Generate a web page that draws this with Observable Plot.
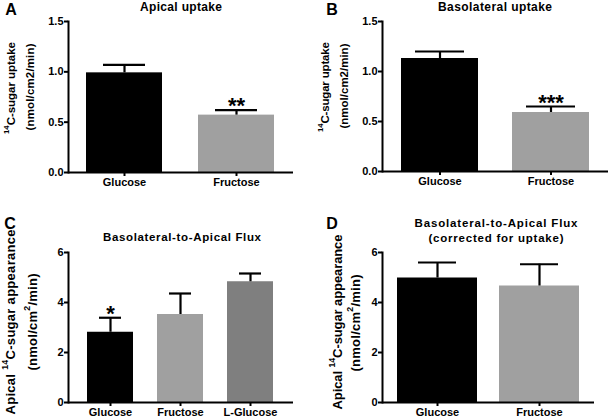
<!DOCTYPE html>
<html>
<head>
<meta charset="utf-8">
<script src="https://cdn.jsdelivr.net/npm/d3@7"></script>
<script src="https://cdn.jsdelivr.net/npm/@observablehq/plot@0.6"></script>
<style>
  html, body { margin: 0; padding: 0; background: #fff; }
  #wrap { position: relative; width: 609px; height: 420px; overflow: hidden; background: #fff;
          font-family: "Liberation Sans", Arial, sans-serif; font-weight: bold; color: #000; }
  .panel { position: absolute; }
  #overlay { position: absolute; left: 0; top: 0; pointer-events: none; }
</style>
</head>
<body>
<div id="wrap"></div>
<script>
// ---- data ----
const catsAB = ["Glucose", "Fructose"];
const apicalMean = [0.99, 0.57];
const apicalSem = [0.08, 0.05];
const apicalStars = ["", "**"];

const basoMean = [1.13, 0.59];
const basoSem = [0.07, 0.06];
const basoStars = ["", "***"];

const catsC = ["Glucose", "Fructose", "L-Glucose"];
const fluxMean = [2.81, 3.52, 4.83];
const fluxSem = [0.58, 0.84, 0.33];
const fluxStars = ["*", "", ""];

const catsD = ["Glucose", "Fructose"];
const corrMean = [4.98, 4.66];
const corrSem = [0.62, 0.87];
const corrStars = ["", ""];

const uptakeTicks = [0, 0.5, 1.0, 1.5];
const fluxTicks = [0, 2, 4, 6];

const barColors = {"Glucose": "#000000", "Fructose": "#a0a0a0", "L-Glucose": "#7f7f7f"};

const wrap = document.getElementById("wrap");

function makePanel(o) {
  const data = o.cats.map((c, i) => ({cat: c, mean: o.means[i], top: o.means[i] + o.sems[i], star: o.stars[i], color: barColors[c]}));
  const chart = Plot.plot({
    width: o.width, height: o.height,
    marginLeft: o.ml, marginRight: o.mr, marginTop: o.mt, marginBottom: o.mb,
    style: {fontFamily: "Liberation Sans, Arial, sans-serif", fontWeight: "bold", fontSize: "11px", background: "transparent", overflow: "visible", color: "#000"},
    x: {type: "band", domain: o.cats, paddingInner: o.pi, paddingOuter: o.po},
    y: {domain: o.domain},
    color: {type: "identity"},
    marks: [
      Plot.barY(data, {x: "cat", y: "mean", fill: "color"}),
      Plot.ruleX(data, {x: "cat", y1: "mean", y2: "top", stroke: "#000", strokeWidth: 2.2}),
      Plot.tickY(data, {x: "cat", y: "top", stroke: "#000", strokeWidth: 2.2, insetLeft: o.cap, insetRight: o.cap}),
      Plot.text(data, {x: "cat", y: "top", text: "star", dy: -4, fontSize: 22, fontWeight: "bold", fill: "#000"}),
      Plot.frame({anchor: "left", stroke: "#000", strokeWidth: 2}),
      Plot.ruleY([0], {stroke: "#000", strokeWidth: 2}),
      Plot.axisY({ticks: o.ticks, tickFormat: o.fmt, tickSize: 4, tickPadding: 1, strokeWidth: 2, label: null, fontSize: 11}),
      Plot.axisX({tickSize: 4, tickPadding: 2, strokeWidth: 2, label: null, fontSize: 11})
    ]
  });
  chart.classList.add("panel");
  chart.style.left = o.left + "px";
  chart.style.top = o.top + "px";
  wrap.appendChild(chart);
}

const f1 = d3.format(".1f");
const f0 = d3.format("d");

makePanel({cats: catsAB, means: apicalMean, sems: apicalSem, stars: apicalStars, domain: [0, 1.5], ticks: uptakeTicks, fmt: f1,
  left: 0, top: 0, width: 300, height: 210, ml: 68, mr: 7, mt: 21, mb: 38, pi: 0.32, po: 0.16, cap: 17});
makePanel({cats: catsAB, means: basoMean, sems: basoSem, stars: basoStars, domain: [0, 1.5], ticks: uptakeTicks, fmt: f1,
  left: 300, top: 0, width: 309, height: 210, ml: 82, mr: 1, mt: 21, mb: 39, pi: 0.31, po: 0.167, cap: 14});
makePanel({cats: catsC, means: fluxMean, sems: fluxSem, stars: fluxStars, domain: [0, 6], ticks: fluxTicks, fmt: f0,
  left: 0, top: 210, width: 300, height: 210, ml: 68, mr: 7, mt: 42, mb: 18, pi: 0.34, po: 0.256, cap: 12});
makePanel({cats: catsD, means: corrMean, sems: corrSem, stars: corrStars, domain: [0, 6], ticks: fluxTicks, fmt: f0,
  left: 300, top: 210, width: 309, height: 210, ml: 82, mr: 15, mt: 42, mb: 18, pi: 0.22, po: 0.143, cap: 21});

// ---- annotation text overlay ----
const svg = d3.select(wrap).append("svg").attr("id", "overlay")
  .attr("width", 609).attr("height", 420)
  .style("font-family", "Liberation Sans, Arial, sans-serif").style("font-weight", "bold");

// parts: array of [text, isSuperscript]
function label(parts, x, y, size, len, rotate) {
  const t = svg.append("text")
    .attr("text-anchor", "middle")
    .attr("dominant-baseline", "central")
    .attr("font-size", size)
    .attr("fill", "#000")
    .attr("transform", `translate(${x},${y})` + (rotate ? " rotate(-90)" : ""));
  if (len) t.attr("textLength", len).attr("lengthAdjust", "spacing");
  for (const [s, sup] of parts) {
    const ts = t.append("tspan").text(s);
    if (sup) ts.attr("font-size", size * 0.68).attr("baseline-shift", "super");
  }
}

// panel letters
label([["A"]], 11, 9, 16);
label([["B"]], 332, 9, 16);
label([["C"]], 10, 223, 16);
label([["D"]], 332, 223, 16);

// titles
label([["Apical uptake"]], 181, 7, 12, 82);
label([["Basolateral uptake"]], 495, 7, 12, 114);
label([["Basolateral-to-Apical Flux"]], 182, 237, 11.5, 158);
label([["Basolateral-to-Apical Flux"]], 496, 223, 11.5, 163);
label([["(corrected for uptake)"]], 496, 238, 11.5, 135);

// y-axis labels
label([["14", true], ["C-sugar uptake"]], 11, 88, 11.5, 92, true);
label([["(nmol/cm2/min)"]], 30, 87, 11.5, 87, true);
label([["14", true], ["C-sugar uptake"]], 325, 87, 11.5, 90, true);
label([["(nmol/cm2/min)"]], 344, 86, 11.5, 85, true);
label([["Apical "], ["14", true], ["C-sugar appearance"]], 10, 322, 13, 185, true);
label([["(nmol/cm"], ["2", true], ["/min)"]], 32, 322, 13, 97, true);
label([["Apical "], ["14", true], ["C-sugar appearance"]], 337, 322, 13, 175, true);
label([["(nmol/cm"], ["2", true], ["/min)"]], 355, 323, 13, 97, true);
</script>
</body>
</html>
